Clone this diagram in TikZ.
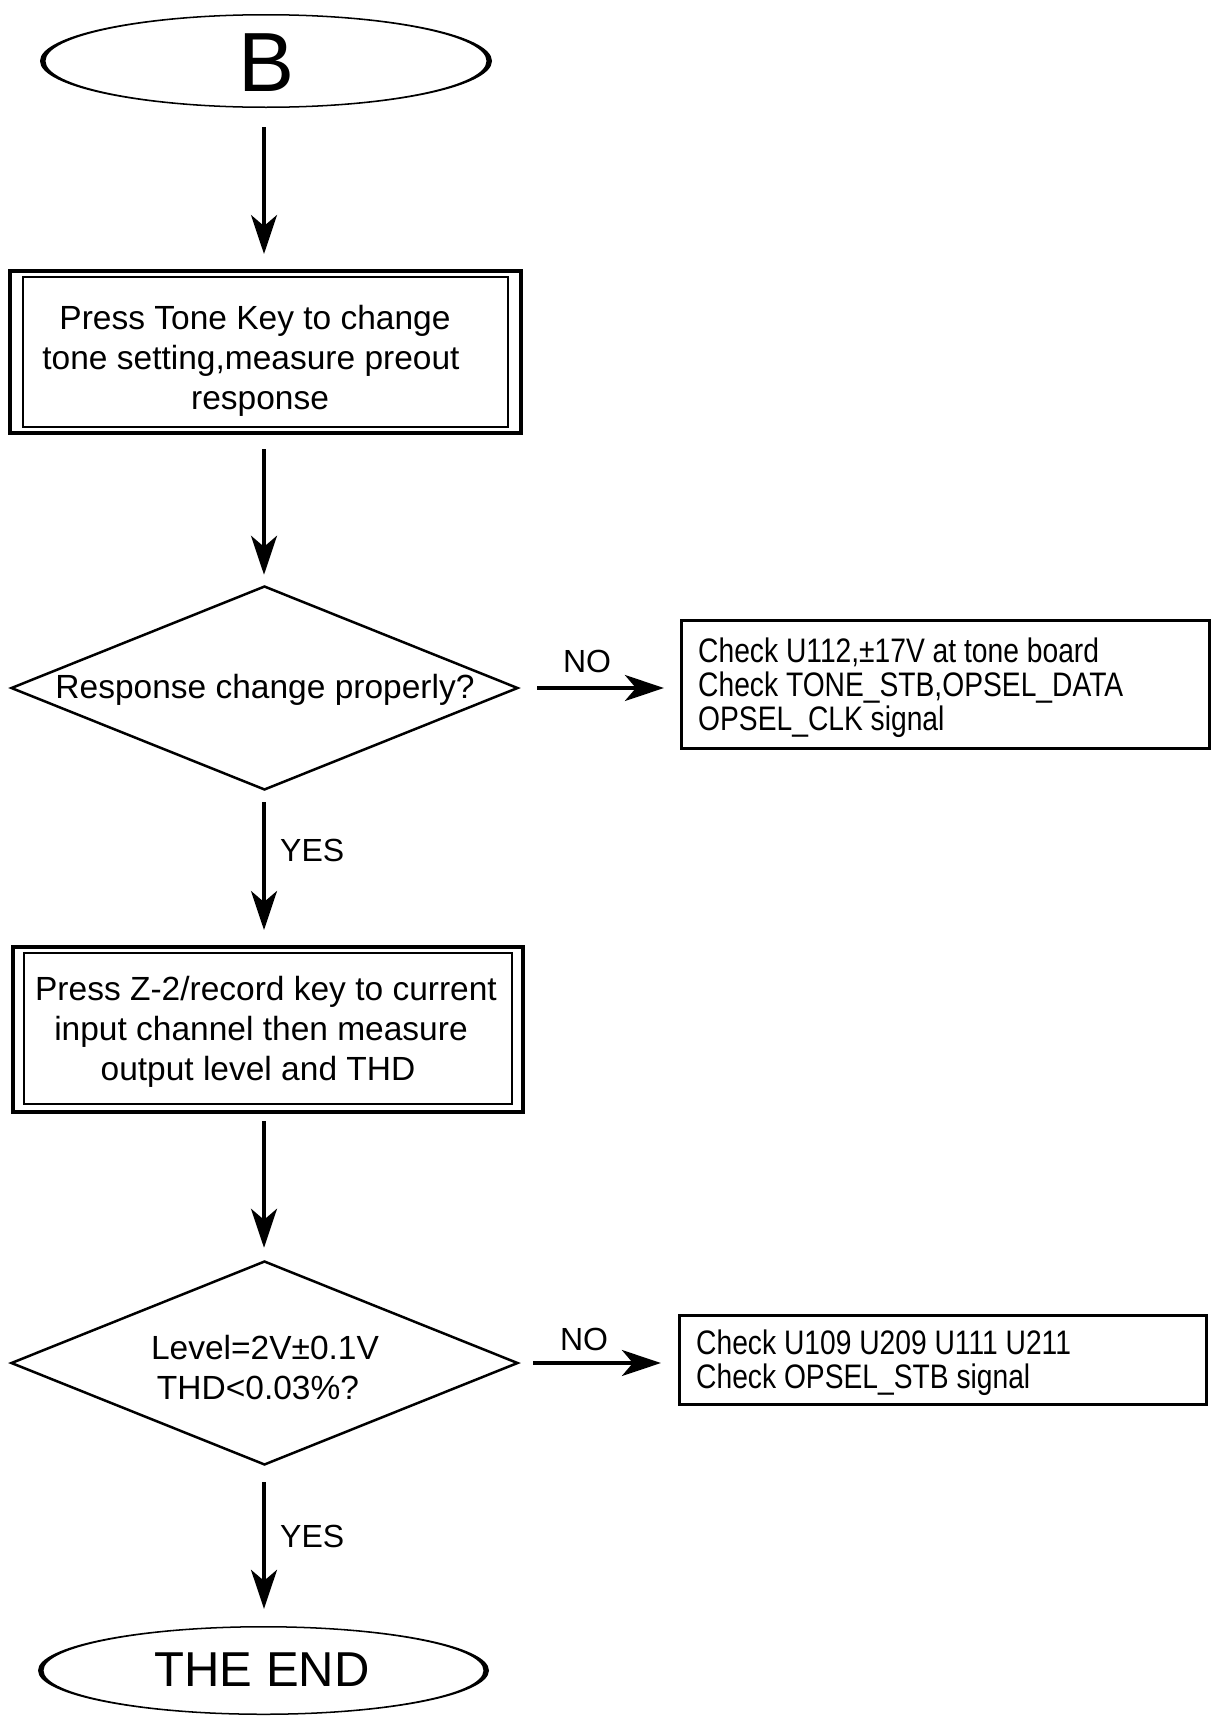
\documentclass[tikz,border=0pt]{standalone}
\usepackage{fontspec}
\setmainfont{Liberation Sans}
\newfontfamily\narrowfont[FakeStretch=0.83]{Liberation Sans}
\usetikzlibrary{shapes.geometric,arrows.meta,calc}
\begin{document}
\begin{tikzpicture}[x=1pt,y=-1pt,
  arr/.style={line width=3.5pt,-{Stealth[length=39pt,width=26pt,inset=11pt]}},
  frame/.style={draw,line width=4pt,rectangle,inner sep=0pt},
  innerframe/.style={line width=1.5pt},
  dec/.style={diamond,draw,line width=2.5pt,inner sep=0pt},
  note/.style={draw,line width=3pt,rectangle,inner sep=0pt},
  term/.style={ellipse,inner sep=0pt},
  txt/.style={font=\fontsize{33.5}{40}\selectfont,inner sep=0pt,anchor=base},
  ntxt/.style={font=\narrowfont\fontsize{34}{34}\selectfont,inner sep=0pt,anchor=base west},
  lbl/.style={font=\fontsize{32}{38}\selectfont,inner sep=0pt},
]
\useasboundingbox (0,0) rectangle (1214,1716);

% start terminal
\node[term,minimum width=452pt,minimum height=94pt] (B) at (266,61) {};
\fill[even odd rule] (B.center) ellipse [x radius=226, y radius=47]
                     (B.center) ellipse [x radius=220.5, y radius=45.5];
\node[font=\fontsize{84}{90}\selectfont,inner sep=0pt,anchor=base] (Btxt) at (267,91) {B};

% box 1
\node[frame,minimum width=511pt,minimum height=162pt] (box1) at (265.5,352) {};
\draw[innerframe] ($(box1.north west)+(15,8)$) rectangle ($(box1.south east)+(-15,-8)$);
\node[txt] (b1l1) at (255,329) {Press Tone Key to change};
\node[txt] (b1l2) at (251,369) {tone setting,measure preout};
\node[txt] (b1l3) at (260,409) {response};

% decision 1
\node[dec,minimum width=507pt,minimum height=204pt] (d1) at (264.5,688) {};
\node[txt] (d1t) at (265,698) {Response change properly?};

% note 1
\node[note,minimum width=528pt,minimum height=128pt] (r1) at (945,684) {};
\node[ntxt] (r1l1) at (698,662) {Check U112,±17V at tone board};
\node[ntxt] (r1l2) at (698,696) {Check TONE\_STB,OPSEL\_DATA};
\node[ntxt] (r1l3) at (698,730) {OPSEL\_CLK signal};

% box 2
\node[frame,minimum width=510pt,minimum height=165pt] (box2) at (268,1029.5) {};
\draw[innerframe] ($(box2.north west)+(13,8)$) rectangle ($(box2.south east)+(-13,-10)$);
\node[txt] (b2l1) at (266,1000) {Press Z-2/record key to current};
\node[txt] (b2l2) at (261,1040) {input channel then measure};
\node[txt] (b2l3) at (258,1080) {output level and THD};

% decision 2
\node[dec,minimum width=507pt,minimum height=204pt] (d2) at (264.5,1363) {};
\node[txt] (d2l1) at (265,1359) {Level=2V±0.1V};
\node[txt] (d2l2) at (258,1399) {THD<0.03\%?};

% note 2
\node[note,minimum width=527pt,minimum height=89pt] (r2) at (942.5,1359.5) {};
\node[ntxt] (r2l1) at (696,1354) {Check U109 U209 U111 U211};
\node[ntxt] (r2l2) at (696,1388) {Check OPSEL\_STB signal};

% end terminal
\node[term,minimum width=451pt,minimum height=89pt] (E) at (264,1670.5) {};
\fill[even odd rule] (263.5,1670.5) ellipse [x radius=225.5, y radius=44.5]
                     (263.5,1670.5) ellipse [x radius=220, y radius=43];
\node[font=\fontsize{49}{56}\selectfont,inner sep=0pt,anchor=base] (Etxt) at (262,1686) {THE END};

% connectors
\coordinate (col) at (264,0);
\draw[arr,shorten <=19pt,shorten >=15pt] (B.south -| col) -- (box1.north -| col);
\draw[arr,shorten <=14pt,shorten >=10pt] (box1.south -| col) -- (d1.north -| col);
\draw[arr,shorten <=11pt,shorten >=15pt] (d1.south -| col) -- (box2.north -| col);
\draw[arr,shorten <=7pt,shorten >=12pt] (box2.south -| col) -- (d2.north -| col);
\draw[arr,shorten <=16pt,shorten >=17pt] (d2.south -| col) -- (E.north -| col);
\draw[arr,shorten <=18pt,shorten >=15.6pt] (d1.east) -- (d1.east -| r1.west);
\draw[arr,shorten <=14pt,shorten >=16.6pt] (d2.east) -- (d2.east -| r2.west);

% labels
\node[lbl,anchor=base] (no1) at (587,672) {NO};
\node[lbl,anchor=base] (no2) at (584,1350) {NO};
\node[lbl,anchor=base west] (yes1) at (280,861) {YES};
\node[lbl,anchor=base west] (yes2) at (280,1547) {YES};
\end{tikzpicture}
\end{document}
